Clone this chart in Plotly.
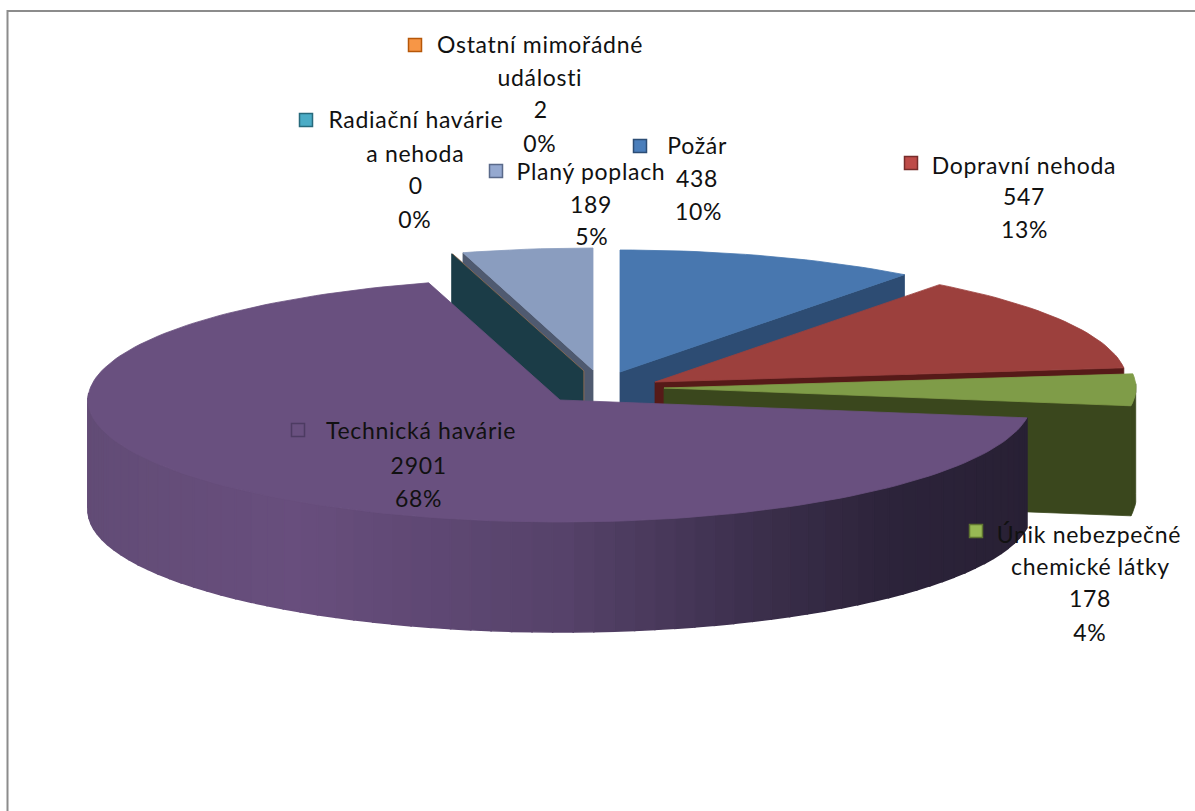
import math
import plotly.graph_objects as go

# ---------- data ----------
names = ["Požár", "Dopravní nehoda", "Únik nebezpečné chemické látky", "Technická havárie",
         "Radiační havárie a nehoda", "Ostatní mimořádné události", "Planý poplach"]
values = [438, 547, 178, 2901, 0, 2, 189]
percents = ["10%", "13%", "4%", "68%", "0%", "0%", "5%"]
name_lines = [["Požár"], ["Dopravní nehoda"], ["Únik nebezpečné", "chemické látky"], ["Technická havárie"],
              ["Radiační havárie", "a nehoda"], ["Ostatní mimořádné", "události"], ["Planý poplach"]]

# ---------- styling / projection ----------
face = ["#4877AF", "#9C403D", "#7F9C48", "#69507F", "#3A8FA8", "#D9853F", "#8A9DBF"]
wall = ["#2D4C73", "#561A18", "#3A471D", "#2C2237", "#1B3C47", "#8A6A50", "#4F5A70"]
key_fill = ["#4A7EBB", "#BE4B48", "#98B954", "#FFFFFF", "#4BACC6", "#F79646", "#95A9D0"]
key_line = ["#2C4D75", "#772C2A", "#5F7530", "#4D3B62", "#276A7C", "#B65708", "#5A6A8A"]
apex = [(620, 372), (655, 382), (664, 388), (560, 400), (583, 371), (584, 371), (593, 370)]
RX, RY, DEPTH = 472, 122, 110
# label layout: key x, key y, centre x of text, y of each line
label_pos = [
    (640, 146, [697, 697, 698], [145, 178, 211]),
    (911, 163, [1024, 1024, 1024], [165, 196, 229]),
    (976, 531, [1089, 1090, 1090, 1090], [534, 566, 598, 632]),
    (298, 430, [421, 418, 418], [430, 465, 498]),
    (306, 120, [416, 415, 415, 415], [119, 153, 185, 219]),
    (415, 45, [540, 540, 540, 540], [44, 77, 109, 143]),
    (496, 171, [591, 591, 592], [171, 204, 236]),
]
FONT = "Lato, Carlito, sans-serif"
FSIZE = 23

total = sum(values)
starts, ends = [], []
acc = 0.0
for v in values:
    starts.append(acc / total * 360)
    acc += v
    ends.append(acc / total * 360)


def pt(c, deg, dy=0):
    r = math.radians(deg)
    return c[0] + RX * math.sin(r), c[1] - RY * math.cos(r) + dy


def poly(pts, color, lw=0.8):
    xs = [p[0] for p in pts] + [pts[0][0]]
    ys = [p[1] for p in pts] + [pts[0][1]]
    return go.Scatter(x=xs, y=ys, mode="lines", fill="toself", fillcolor=color,
                      line=dict(color=color, width=lw), hoverinfo="skip", showlegend=False)


def top_face(i):
    n = max(2, int((ends[i] - starts[i]) / 1.5))
    arc = [pt(apex[i], starts[i] + (ends[i] - starts[i]) * k / n) for k in range(n + 1)]
    return poly([apex[i]] + arc, face[i])


def radial_wall(i, deg):
    a = apex[i]
    p = pt(a, deg)
    return poly([a, p, (p[0], p[1] + DEPTH), (a[0], a[1] + DEPTH)], wall[i])


def lerp_col(t):
    stops = [(0.0, (98, 76, 118)), (0.22, (104, 78, 125)), (0.5, (86, 66, 106)),
             (0.72, (58, 46, 74)), (0.85, (44, 35, 58)), (1.0, (40, 32, 52))]
    for (t0, c0), (t1, c1) in zip(stops, stops[1:]):
        if t <= t1:
            f = (t - t0) / (t1 - t0)
            return "rgb(%d,%d,%d)" % tuple(round(a + (b - a) * f) for a, b in zip(c0, c1))
    return "rgb(40,32,52)"


fig = go.Figure()
# back slices first
fig.add_trace(radial_wall(6, starts[6]))
fig.add_trace(top_face(6))
fig.add_trace(radial_wall(0, ends[0]))
fig.add_trace(top_face(0))
fig.add_trace(radial_wall(1, ends[1]))
fig.add_trace(top_face(1))
# green slice: end wall, rim, top
fig.add_trace(radial_wall(2, ends[2]))
g0, g1 = max(starts[2], 88), ends[2]
rim = [pt(apex[2], g0 + (g1 - g0) * k / 8) for k in range(9)]
fig.add_trace(poly(rim + [(x, y + DEPTH) for x, y in reversed(rim)], wall[2]))
fig.add_trace(top_face(2))
# tiny and zero slices: only walls are visible
fig.add_trace(radial_wall(5, starts[5]))
fig.add_trace(radial_wall(4, starts[4]))
# purple rim with horizontal gradient
deg = starts[3]
step = 2.5
while deg < 272:
    p0, p1 = pt(apex[3], deg), pt(apex[3], deg + step)
    xm = (p0[0] + p1[0]) / 2
    t = (xm - (apex[3][0] - RX)) / (2 * RX)
    fig.add_trace(poly([p0, p1, (p1[0], p1[1] + DEPTH), (p0[0], p0[1] + DEPTH)], lerp_col(t), lw=1.6))
    deg += step
fig.add_trace(top_face(3))

# legend keys + text
annotations = []
for i, (kx, ky, cxs, ys) in enumerate(label_pos):
    fig.add_trace(go.Scatter(x=[kx], y=[ky], mode="markers",
                             marker=dict(symbol="square", size=13, color=key_fill[i] if i != 3 else face[3],
                                         line=dict(color=key_line[i], width=1.5)),
                             hoverinfo="skip", showlegend=False))
    lines = name_lines[i] + [str(values[i]), percents[i]]
    for txt, cx, y in zip(lines, cxs, ys):
        annotations.append(dict(x=cx, y=y, xref="x", yref="y", text=txt, showarrow=False,
                                xanchor="center", yanchor="middle",
                                font=dict(family=FONT, size=FSIZE, color="#111111")))

fig.update_layout(
    width=1195, height=811, margin=dict(l=0, r=0, t=0, b=0),
    paper_bgcolor="white", plot_bgcolor="white", showlegend=False,
    xaxis=dict(range=[0, 1195], visible=False, fixedrange=True),
    yaxis=dict(range=[811, 0], visible=False, fixedrange=True),
    annotations=annotations,
    shapes=[
        dict(type="line", x0=7, x1=1195, y0=11, y1=11, line=dict(color="#8C8C8C", width=2)),
        dict(type="line", x0=7.5, x1=7.5, y0=10, y1=811, line=dict(color="#8C8C8C", width=2)),
    ],
)
post = ("document.documentElement.style.overflow='hidden';"
        "document.body.style.margin='0';"
        "document.querySelectorAll('.annotation-text').forEach(function(t){t.style.letterSpacing='0.7px';});")
fig.write_html("out.html", config={"displayModeBar": False}, post_script=post)
